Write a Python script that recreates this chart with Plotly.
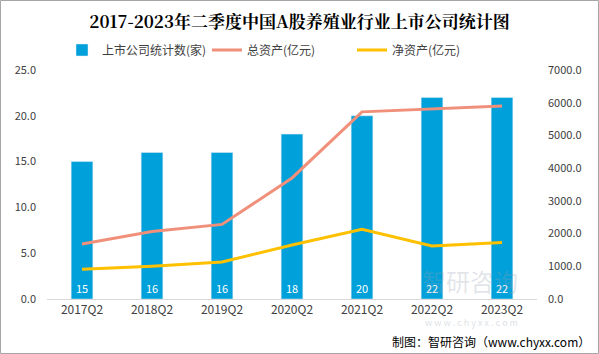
import plotly.graph_objects as go

categories = ["2017Q2", "2018Q2", "2019Q2", "2020Q2", "2021Q2", "2022Q2", "2023Q2"]
company_counts = [15, 16, 16, 18, 20, 22, 22]
total_assets = [1680, 2060, 2280, 3700, 5720, 5810, 5900]
net_assets = [910, 1000, 1130, 1650, 2130, 1620, 1730]
left_ticks = [0, 5, 10, 15, 20, 25]
right_ticks = [0, 1000, 2000, 3000, 4000, 5000, 6000, 7000]

BAR = "#00A0DA"
TOTAL = "#F0907A"
NET = "#FFC000"
FONT = "Noto Sans CJK SC"

fig = go.Figure()
fig.add_trace(go.Bar(
    x=categories, y=company_counts, name="上市公司统计数(家)",
    marker_color=BAR, width=0.31,
    text=[str(v) for v in company_counts], textposition="inside",
    insidetextanchor="start", textangle=0,
    textfont=dict(color="white", size=11, family=FONT),
))
fig.add_trace(go.Scatter(
    x=categories, y=total_assets, name="总资产(亿元)", yaxis="y2",
    mode="lines", line=dict(color=TOTAL, width=3),
))
fig.add_trace(go.Scatter(
    x=categories, y=net_assets, name="净资产(亿元)", yaxis="y2",
    mode="lines", line=dict(color=NET, width=3),
))

L, R, T, B = 47, 62, 70, 55
W, H = 599, 354
pw, ph = W - L - R, H - T - B

def px(x):
    return (x - L) / pw

def py(y):
    return (H - B - y) / ph

fig.update_layout(
    width=W, height=H,
    margin=dict(l=L, r=R, t=T, b=B),
    paper_bgcolor="white", plot_bgcolor="white",
    font=dict(family=FONT, color="#404040"),
    title=dict(text="<b>2017-2023年二季度中国A股养殖业行业上市公司统计图</b>",
               x=0.5, xanchor="center", y=1 - 22 / H, yanchor="middle",
               font=dict(size=17, color="black", family="Noto Serif CJK SC, " + FONT)),
    legend=dict(orientation="h", x=px(62), xanchor="left", y=py(50), yanchor="middle",
                font=dict(size=12, color="#404040"), itemwidth=30, tracegroupgap=0,
                entrywidth=100, entrywidthmode="pixels",
                bgcolor="rgba(0,0,0,0)"),
    showlegend=True,
    bargap=0.6,
    xaxis=dict(showline=True, linecolor="#D9D9D9", linewidth=1, ticks="",
               tickfont=dict(size=12, color="#404040"), showgrid=False),
    yaxis=dict(range=[0, 25], tickvals=left_ticks, tickformat=".1f", showgrid=False,
               zeroline=False, tickfont=dict(size=11, color="#404040"), ticklabelstandoff=10),
    yaxis2=dict(range=[0, 7000], tickvals=right_ticks, tickformat=".1f", overlaying="y",
                side="right", showgrid=False, zeroline=False,
                tickfont=dict(size=11, color="#404040"), ticklabelstandoff=10),
)

# watermark (faint, as in the reference)
fig.add_annotation(text="智研咨询", xref="paper", yref="paper", x=px(520), y=py(300),
                   showarrow=False, font=dict(size=24, color="rgba(150,160,175,0.28)"))
fig.add_annotation(text="w w w . c h y x x . c o m", xref="paper", yref="paper",
                   x=px(520), y=py(331), showarrow=False,
                   font=dict(size=9, color="rgba(150,160,175,0.35)"))
# footer
fig.add_annotation(text="制图：智研咨询（www.chyxx.com）", xref="paper", yref="paper",
                   x=px(592), y=py(341), xanchor="right", yanchor="middle", showarrow=False,
                   font=dict(size=12, color="black"))
# border
fig.add_shape(type="rect", xref="paper", yref="paper",
              x0=px(0.5), x1=px(598.5), y0=py(353.5), y1=py(0.5),
              line=dict(color="#A6A6A6", width=1), layer="below")

fig.write_html("out.html")
